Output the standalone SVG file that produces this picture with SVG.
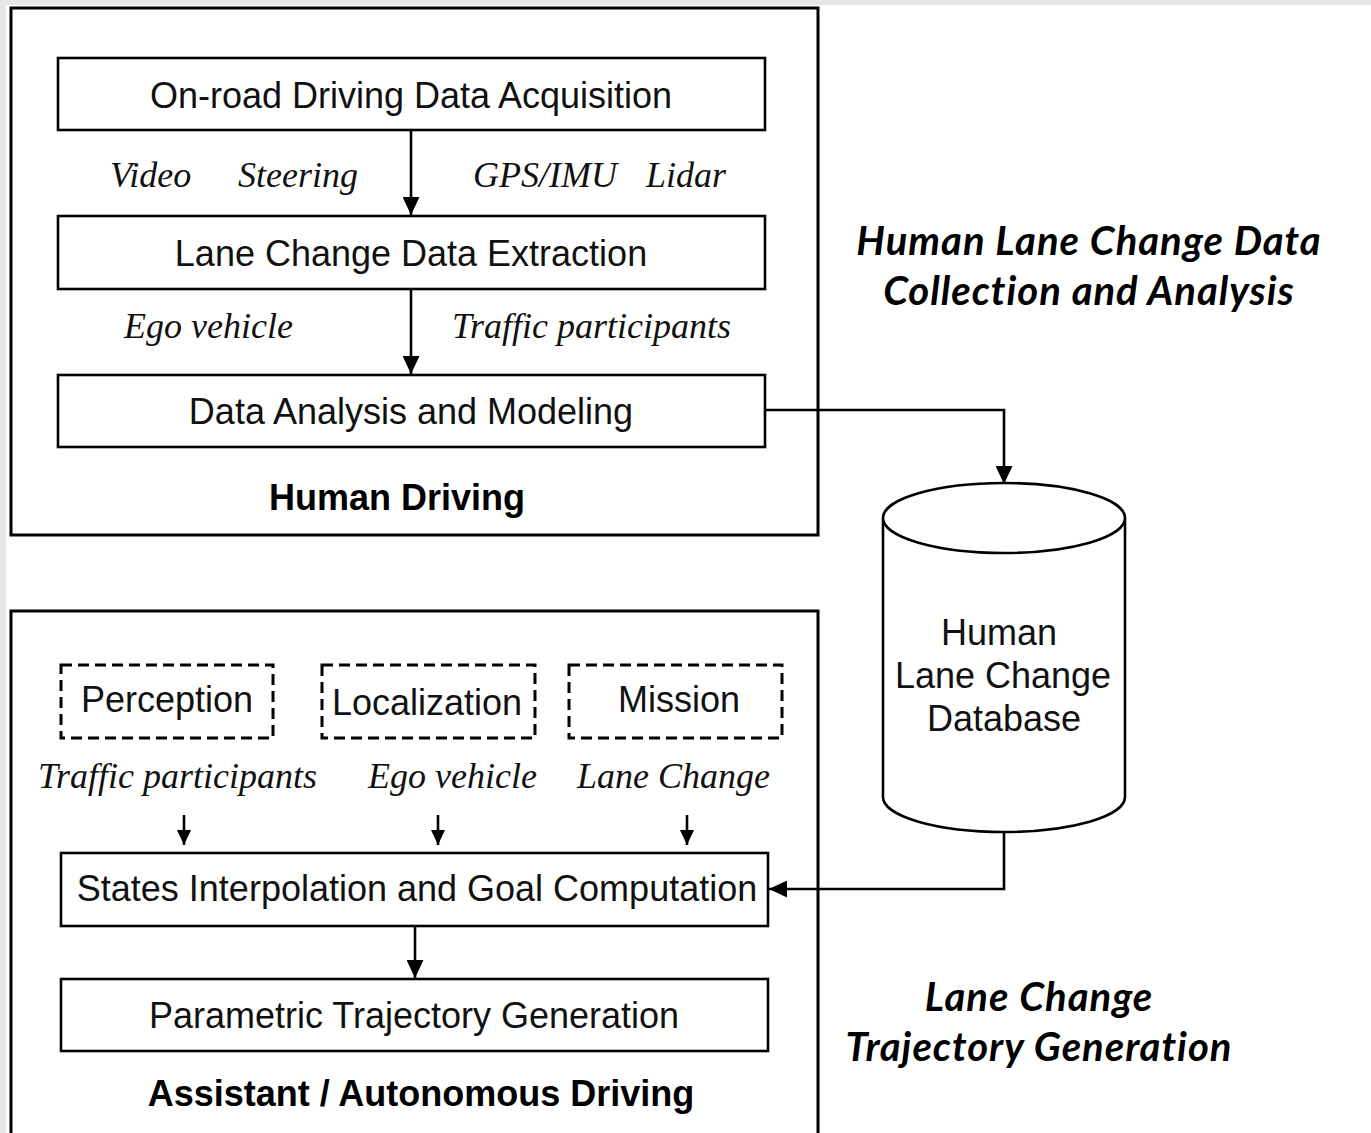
<svg xmlns="http://www.w3.org/2000/svg" width="1371" height="1133" viewBox="0 0 1371 1133">
  <style>
    .frame { fill: none; stroke: #000; stroke-width: 3; }
    .box { fill: #fff; stroke: #000; stroke-width: 2.6; }
    .dash { fill: #fff; stroke: #000; stroke-width: 3; stroke-dasharray: 11 6; }
    .wire { fill: none; stroke: #000; stroke-width: 2.6; }
    .lbl { font-family: "Liberation Sans", Arial, sans-serif; font-size: 36px; fill: #111; text-anchor: middle; }
    .ttl { font-family: "Liberation Sans", Arial, sans-serif; font-size: 36px; font-weight: bold; fill: #000; text-anchor: middle; }
    .sig { font-family: "Liberation Serif", "Times New Roman", serif; font-style: italic; font-size: 36px; fill: #111; }
    .stage { font-family: Lato, "Open Sans", sans-serif; font-style: italic; font-weight: bold; font-size: 40px; letter-spacing: 1px; fill: #000; text-anchor: middle; }
  </style>
  <defs>
    <marker id="head" viewBox="0 0 18 17" refX="18" refY="8.5" markerWidth="18" markerHeight="17" markerUnits="userSpaceOnUse" orient="auto">
      <path d="M0,0 L18,8.5 L0,17 Z" fill="#000"/>
    </marker>
    <marker id="headS" viewBox="0 0 15 14" refX="15" refY="7" markerWidth="15" markerHeight="14" markerUnits="userSpaceOnUse" orient="auto">
      <path d="M0,0 L15,7 L0,14 Z" fill="#000"/>
    </marker>
  </defs>

  <rect x="0" y="0" width="1371" height="1133" fill="#fff"/>
  <!-- light page edge -->
  <rect x="0" y="0" width="1371" height="5" fill="#e6e6e6"/>
  <rect x="0" y="0" width="6" height="1133" fill="#e6e6e6"/>

  <!-- section frames -->
  <g id="human-driving">
    <rect class="frame" x="11" y="8" width="807" height="527"/>
    <text class="ttl" x="397" y="510">Human Driving</text>
  </g>
  <g id="autonomous-driving">
    <rect class="frame" x="11" y="611" width="807" height="540"/>
    <text class="ttl" x="421" y="1106">Assistant / Autonomous Driving</text>
  </g>

  <!-- connectors -->
  <g id="connectors">
    <line class="wire" x1="411" y1="130" x2="411" y2="215" marker-end="url(#head)"/>
    <line class="wire" x1="411" y1="289" x2="411" y2="374" marker-end="url(#head)"/>
    <polyline class="wire" points="765,410 1004,410 1004,484" marker-end="url(#head)"/>
    <polyline class="wire" points="1004,832 1004,889 769,889" marker-end="url(#head)"/>
    <line class="wire" x1="184" y1="815" x2="184" y2="845" marker-end="url(#headS)"/>
    <line class="wire" x1="438" y1="815" x2="438" y2="845" marker-end="url(#headS)"/>
    <line class="wire" x1="687" y1="815" x2="687" y2="845" marker-end="url(#headS)"/>
    <line class="wire" x1="415" y1="926" x2="415" y2="978" marker-end="url(#head)"/>
  </g>

  <!-- signal labels -->
  <g id="signal-labels">
    <text class="sig" x="110" y="187">Video</text>
    <text class="sig" x="238" y="187">Steering</text>
    <text class="sig" x="473" y="187">GPS/IMU</text>
    <text class="sig" x="646" y="187">Lidar</text>
    <text class="sig" x="124" y="338">Ego vehicle</text>
    <text class="sig" x="452" y="338">Traffic participants</text>
    <text class="sig" x="38" y="788">Traffic participants</text>
    <text class="sig" x="368" y="788">Ego vehicle</text>
    <text class="sig" x="577" y="788">Lane Change</text>
  </g>

  <g id="data-acquisition">
    <rect class="box" x="58" y="58" width="707" height="72"/>
    <text class="lbl" x="411" y="108">On-road Driving Data Acquisition</text>
  </g>
  <g id="data-extraction">
    <rect class="box" x="58" y="216" width="707" height="73"/>
    <text class="lbl" x="411" y="266">Lane Change Data Extraction</text>
  </g>
  <g id="data-analysis">
    <rect class="box" x="58" y="375" width="707" height="72"/>
    <text class="lbl" x="411" y="424">Data Analysis and Modeling</text>
  </g>

  <g id="database">
    <path class="box" d="M883,518 L883,797 A121,35 0 0 0 1125,797 L1125,518"/>
    <ellipse class="box" cx="1004" cy="518" rx="121" ry="35"/>
    <text class="lbl" x="999" y="645">Human</text>
    <text class="lbl" x="1003" y="688">Lane Change</text>
    <text class="lbl" x="1004" y="731">Database</text>
  </g>

  <g id="perception">
    <rect class="dash" x="61" y="665" width="212" height="73"/>
    <text class="lbl" x="167" y="712">Perception</text>
  </g>
  <g id="localization">
    <rect class="dash" x="322" y="665" width="213" height="73"/>
    <text class="lbl" x="427" y="715">Localization</text>
  </g>
  <g id="mission">
    <rect class="dash" x="569" y="665" width="213" height="73"/>
    <text class="lbl" x="679" y="712">Mission</text>
  </g>

  <g id="goal-computation">
    <rect class="box" x="61" y="853" width="707" height="73"/>
    <text class="lbl" x="417" y="901">States Interpolation and Goal Computation</text>
  </g>
  <g id="trajectory-generation">
    <rect class="box" x="61" y="979" width="707" height="72"/>
    <text class="lbl" x="414" y="1028">Parametric Trajectory Generation</text>
  </g>

  <g id="stage-labels">
    <text class="stage" x="1089" y="255">Human Lane Change Data</text>
    <text class="stage" x="1089" y="305">Collection and Analysis</text>
    <text class="stage" x="1039" y="1011">Lane Change</text>
    <text class="stage" x="1039" y="1061">Trajectory Generation</text>
  </g>
</svg>
